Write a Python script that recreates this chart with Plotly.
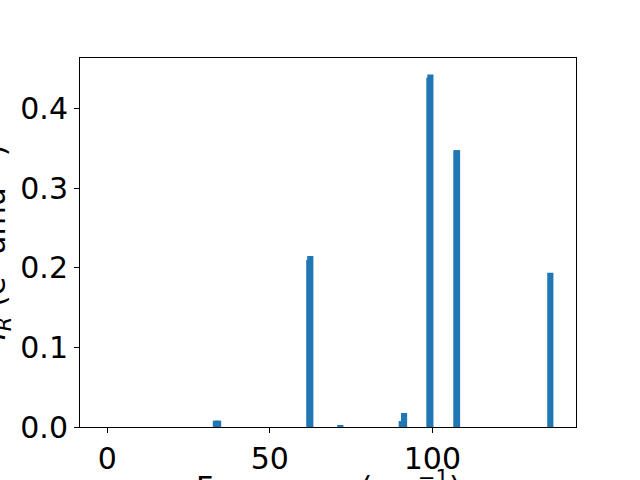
import plotly.graph_objects as go

frequencies = [33.4, 34.1, 62.15, 62.45, 71.7, 90.6, 91.3, 99.1, 99.4, 107.4, 107.6, 136.3]
intensities = [0.008, 0.008, 0.210, 0.215, 0.002, 0.0075, 0.0176, 0.439, 0.443, 0.348, 0.348, 0.194]
x_ticks = [0, 50, 100]
y_ticks = [0.0, 0.1, 0.2, 0.3, 0.4]

W, H = 640, 480
L, R, T, B = 80, 64, 58, 53
pw, ph = W - L - R, H - T - B

fig = go.Figure()
fig.add_trace(go.Bar(x=frequencies, y=intensities, width=1.9,
                     marker=dict(color="#1f77b4", line=dict(width=0))))

font = dict(family="DejaVu Sans", size=30, color="black")
fig.update_layout(
    width=W, height=H, margin=dict(l=L, r=R, t=T, b=B, autoexpand=False),
    paper_bgcolor="white", plot_bgcolor="white",
    barmode="overlay", showlegend=False, font=font,
    xaxis=dict(range=[-8.4, 144.2], tickvals=x_ticks, ticks="outside", ticklen=5,
               tickwidth=1, tickcolor="black", showline=True, linecolor="black",
               linewidth=1, mirror=True, showgrid=False, zeroline=False,
               tickfont=font, automargin=False),
    yaxis=dict(range=[0, 0.4638], tickvals=y_ticks, tickformat=".1f", ticks="outside",
               ticklen=5, tickwidth=1, tickcolor="black", showline=True,
               linecolor="black", linewidth=1, mirror=True, showgrid=False,
               zeroline=False, tickfont=font, automargin=False),
    annotations=[
        dict(text="Frequency (cm<sup>−1</sup>)", xref="paper", yref="paper",
             x=0.5, y=(427 - 464) / ph, xanchor="center", yanchor="top",
             showarrow=False, font=font),
        dict(text="<i>I</i><sub><i>R</i></sub> (e<sup>2</sup> amu<sup>−1</sup>)",
             xref="paper", yref="paper", textangle=-90,
             x=(18 - L) / pw, y=0.5, xanchor="right", yanchor="middle",
             showarrow=False, font=font),
    ],
)
fig.write_html("out.html", config={"displayModeBar": False},
               post_script="document.body.style.margin='0';")
